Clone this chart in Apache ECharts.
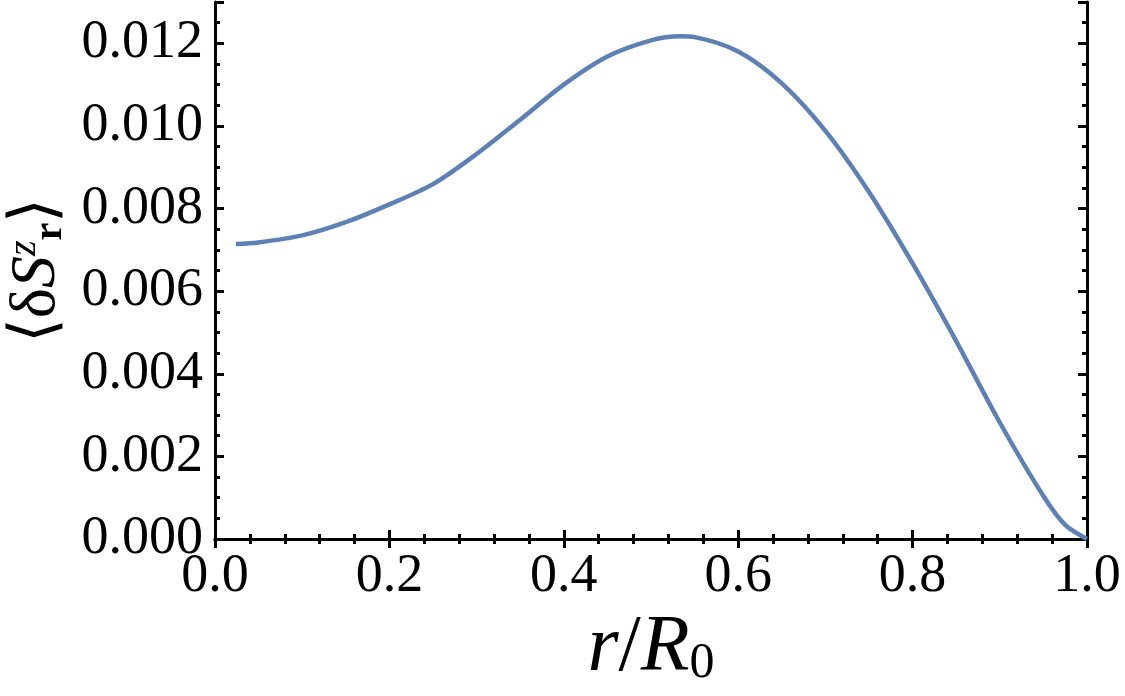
<!DOCTYPE html>
<html>
<head>
<meta charset="utf-8">
<script src="https://cdn.jsdelivr.net/npm/echarts@6/dist/echarts.min.js"></script>
<style>
  html, body { margin: 0; padding: 0; background: #fff; }
  #chart { width: 1125px; height: 696px; }
</style>
</head>
<body>
<div id="chart"></div>
<script>
// r / R0 sample positions
const rValues = [0.024, 0.05, 0.10, 0.15, 0.20, 0.25, 0.30, 0.35, 0.40, 0.45, 0.50, 0.533, 0.55, 0.60, 0.65, 0.70, 0.75, 0.80, 0.85, 0.90, 0.95, 0.975, 1.0]
// <dS^z_r>
const dSz = [0.00714, 0.00718, 0.00735, 0.00767, 0.00810, 0.00859, 0.00932, 0.01015, 0.01100, 0.01168, 0.01207, 0.01217, 0.01215, 0.01180, 0.01103, 0.00988, 0.00840, 0.00667, 0.00479, 0.00282, 0.00104, 0.00034, 0.0]
const xTicks = [0, 0.2, 0.4, 0.6, 0.8, 1.0]

const chart = echarts.init(document.getElementById('chart'))
const serif = "'Liberation Serif', 'Times New Roman', serif"
const frame = { show: true, lineStyle: { color: '#000', width: 3 } }

const yBase = {
  type: 'value',
  min: 0,
  max: 0.013,
  splitLine: { show: false }
}

chart.setOption({
  backgroundColor: '#fff',
  animation: false,
  grid: {
    left: 215,
    right: 38,
    top: 2,
    bottom: 157,
    containLabel: false,
    outerBoundsMode: 'none'
  },
  xAxis: [
    {
      type: 'value',
      position: 'bottom',
      min: 0,
      max: 1,
      interval: 0.2,
      axisLine: frame,
      axisTick: { inside: true, length: 9, lineStyle: { width: 3, color: '#000' } },
      minorTick: { show: true, splitNumber: 5, length: 5, lineStyle: { width: 3, color: '#000' } },
      splitLine: { show: false },
      axisLabel: {
        margin: 11,
        fontFamily: serif,
        fontSize: 54,
        color: '#000',
        formatter: v => xTicks.includes(+v.toFixed(1)) ? v.toFixed(1) : ''
      },
      name: '{i|r}{n|/}{i|R}{s|0}',
      nameLocation: 'middle',
      nameGap: 62,
      nameTextStyle: {
        rich: {
          i: { fontFamily: serif, fontStyle: 'italic', fontSize: 80, color: '#000' },
          n: { fontFamily: serif, fontSize: 80, color: '#000' },
          s: { fontFamily: serif, fontSize: 50, color: '#000', verticalAlign: 'bottom', padding: [26, 0, 0, 0] }
        }
      }
    },
    {
      type: 'value',
      position: 'top',
      min: 0,
      max: 1,
      interval: 0.2,
      axisLine: frame,
      axisTick: { inside: true, length: 9, lineStyle: { width: 3, color: '#000' } },
      minorTick: { show: true, splitNumber: 5, length: 5, lineStyle: { width: 3, color: '#000' } },
      splitLine: { show: false },
      axisLabel: { show: false }
    }
  ],
  yAxis: [
    Object.assign({}, yBase, {
      position: 'left',
      interval: 0.002,
      axisLine: frame,
      axisTick: { inside: true, length: 9, lineStyle: { width: 3, color: '#000' } },
      axisLabel: {
        margin: 12,
        fontFamily: serif,
        fontSize: 54,
        color: '#000',
        formatter: v => v > 0.0125 ? '' : v.toFixed(3)
      },
      name: '{a|⟨δ}{b|S}{sup|z}{sub|r}{a|⟩}',
      nameLocation: 'middle',
      nameRotate: 90,
      nameGap: 140,
      nameTextStyle: {
        rich: {
          a: { fontFamily: serif, fontSize: 64, color: '#000' },
          b: { fontFamily: serif, fontStyle: 'italic', fontSize: 64, color: '#000' },
          sup: { fontFamily: serif, fontStyle: 'italic', fontSize: 40, color: '#000', verticalAlign: 'top', padding: [0, 0, 26, 0] },
          sub: { fontFamily: serif, fontWeight: 'bold', fontSize: 40, color: '#000', verticalAlign: 'bottom', padding: [18, 0, 0, 0] }
        }
      }
    }),
    Object.assign({}, yBase, {
      position: 'left',
      interval: 0.0005,
      axisLine: { show: false },
      axisTick: { inside: true, length: 5, lineStyle: { width: 3, color: '#000' } },
      axisLabel: { show: false }
    }),
    Object.assign({}, yBase, {
      position: 'right',
      interval: 0.002,
      axisLine: frame,
      axisTick: { inside: true, length: 9, lineStyle: { width: 3, color: '#000' } },
      axisLabel: { show: false }
    }),
    Object.assign({}, yBase, {
      position: 'right',
      interval: 0.0005,
      axisLine: { show: false },
      axisTick: { inside: true, length: 5, lineStyle: { width: 3, color: '#000' } },
      axisLabel: { show: false }
    })
  ],
  series: [
    {
      type: 'line',
      xAxisIndex: 0,
      yAxisIndex: 0,
      data: rValues.map((r, i) => [r, dSz[i]]),
      smooth: 0.3,
      showSymbol: false,
      lineStyle: { color: '#5E81B5', width: 4.5 }
    }
  ]
})
</script>
</body>
</html>
